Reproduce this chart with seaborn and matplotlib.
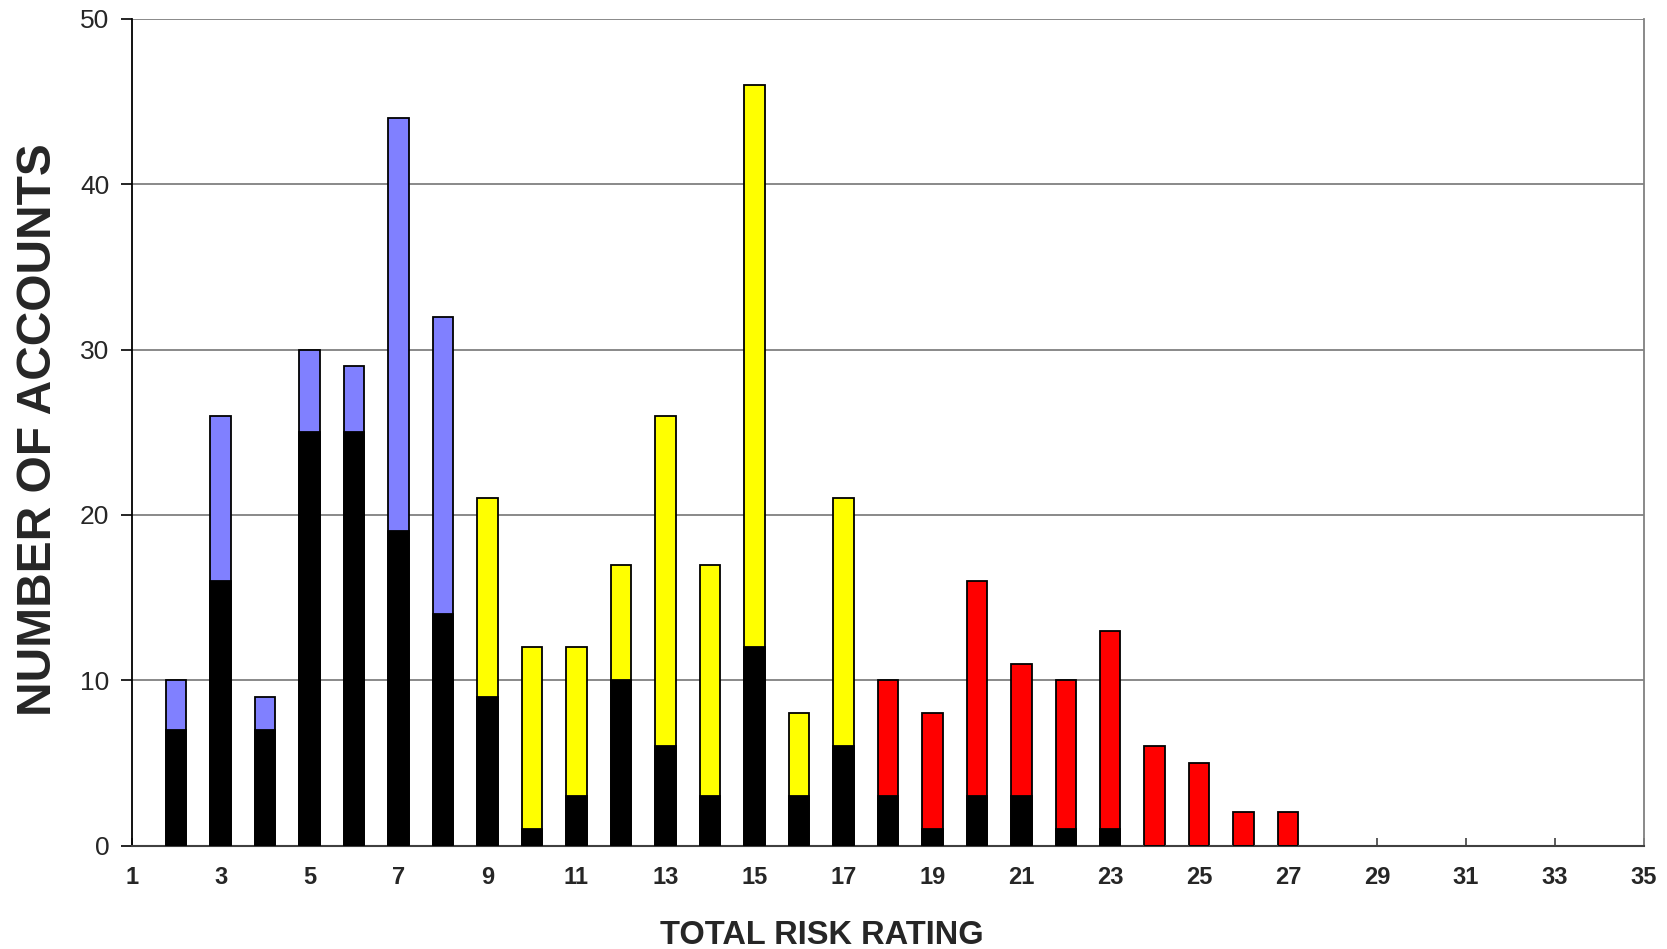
import matplotlib
matplotlib.use("Agg")
import matplotlib.pyplot as plt
import seaborn as sns
import pandas as pd

# Total risk rating per account group and the number of accounts at each rating
ratings = [2, 3, 4, 5, 6, 7, 8, 9, 10, 11, 12, 13, 14, 15, 16, 17, 18,
           19, 20, 21, 22, 23, 24, 25, 26, 27]
total_accounts = [10, 26, 9, 30, 29, 44, 32, 21, 12, 12, 17, 26, 17, 46, 8, 21, 10,
                  8, 16, 11, 10, 13, 6, 5, 2, 2]
black_accounts = [7, 16, 7, 25, 25, 19, 14, 9, 1, 3, 10, 6, 3, 12, 3, 6, 3,
                  1, 3, 3, 1, 1, 0, 0, 0, 0]
risk_band = (["low"] * 7) + (["medium"] * 9) + (["high"] * 10)
band_colors = {"low": "#8080FF", "medium": "#FFFF00", "high": "#FF0000"}
x_ticks = list(range(1, 36, 2))
y_ticks = [0, 10, 20, 30, 40, 50]

df = pd.DataFrame({"rating": ratings, "total": total_accounts,
                   "black": black_accounts, "band": risk_band})

sns.set_theme(style="white")
plt.rcParams["font.family"] = ["Liberation Sans", "DejaVu Sans"]

fig = plt.figure(figsize=(16.67, 9.49), dpi=100)
ax = fig.add_axes([0.079, 0.109, 0.9072, 0.871])

# horizontal gridlines behind the bars
for yv in y_ticks[1:]:
    ax.axhline(yv, color="#808080", lw=1.3, zorder=0)

sns.barplot(data=df, x="rating", y="total", hue="band", palette=band_colors,
            native_scale=True, dodge=False, width=0.46, legend=False,
            edgecolor="black", linewidth=1.3, saturation=1, ax=ax, zorder=2)
sns.barplot(data=df, x="rating", y="black", color="black",
            native_scale=True, width=0.46, edgecolor="black", linewidth=1.3,
            saturation=1, ax=ax, zorder=3)

ax.set_xlim(1, 35)
ax.set_ylim(0, 50)
ax.set_xticks(x_ticks)
ax.set_yticks(y_ticks)
ax.set_xticklabels([str(t) for t in x_ticks], fontweight="bold", fontsize=17)
ax.set_yticklabels([str(t) for t in y_ticks], fontsize=19)

ax.tick_params(axis="y", direction="out", length=8, width=1.2, color="black",
               left=True, pad=8)
ax.tick_params(axis="x", direction="in", length=6, width=1.2, color="#404040",
               bottom=True, pad=15)

ax.spines["left"].set_color("black")
ax.spines["left"].set_linewidth(1.3)
ax.spines["bottom"].set_color("#404040")
ax.spines["bottom"].set_linewidth(1.5)
ax.spines["right"].set_color("#808080")
ax.spines["right"].set_linewidth(1.3)
ax.spines["top"].set_visible(False)

ax.set_xlabel("TOTAL RISK RATING", fontweight="bold", fontsize=23.5)
ax.xaxis.set_label_coords(0.4565, -0.0895)
ax.set_ylabel("NUMBER OF ACCOUNTS", fontweight="bold", fontsize=34.5)
ax.yaxis.set_label_coords(-0.0468, 0.503)

fig.savefig("out.png", dpi=100)
